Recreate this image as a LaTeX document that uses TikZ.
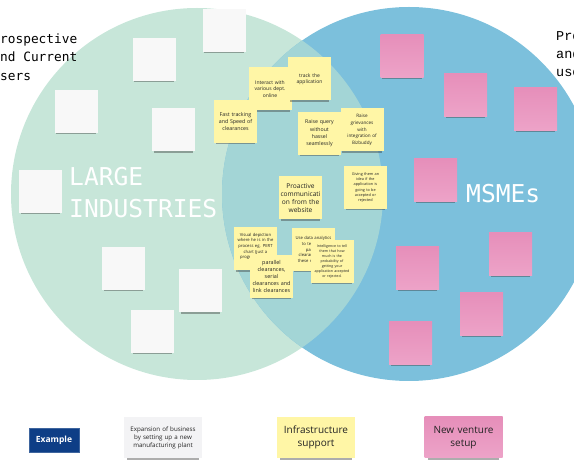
\documentclass[tikz,border=0pt]{standalone}
\usepackage{fontspec}
\setmainfont{Open Sans}
\setmonofont{DejaVu Sans Mono}
\newfontfamily\typewriter{Liberation Mono}
\usetikzlibrary{shadows}

\definecolor{largegreen}{RGB}{199,230,217}
\definecolor{msmeblue}{RGB}{124,192,220}
\definecolor{overlapteal}{RGB}{163,213,214}
\definecolor{stickyyellow}{RGB}{255,246,166}
\definecolor{pinktop}{RGB}{230,143,186}
\definecolor{pinkbottom}{RGB}{237,163,200}
\definecolor{stickywhite}{RGB}{248,248,248}
\definecolor{legendwhite}{RGB}{243,243,245}
\definecolor{examplenavy}{RGB}{14,62,134}
\definecolor{notetext}{RGB}{35,35,35}

\begin{document}
\begin{tikzpicture}[x=1pt,y=-1pt,
  sticky/.style={minimum width=43pt,minimum height=43pt,inner sep=1.5pt,
    text width=40pt,align=center,text=notetext,
    drop shadow={shadow xshift=0pt,shadow yshift=-3.5pt,shadow scale=0.92,
      opacity=0.4,fill=black!80}},
  blank/.style={sticky,fill=stickywhite},
  idea/.style={sticky,fill=stickyyellow},
  venture/.style={sticky,top color=pinktop,bottom color=pinkbottom},
  legendnote/.style={sticky,minimum width=78pt,minimum height=41pt,text width=75pt}]

  \useasboundingbox (0,0) rectangle (574,462);
  \clip (0,0) rectangle (574,462);

  % the two user groups
  \fill[largegreen] (197,194) circle[radius=186pt];
  \fill[msmeblue] (409,194) circle[radius=187pt];
  \begin{scope}
    \clip (197,194) circle[radius=186pt];
    \fill[overlapteal] (409,194) circle[radius=187pt];
  \end{scope}

  % side captions
  \node[anchor=north west,inner sep=0pt,align=left,font=\ttfamily\fontsize{12.8}{18.5}\selectfont]
    (usersleft) at (-7.7,33.5) {Prospective\\and Current\\users};
  \node[anchor=north west,inner sep=0pt,align=left,font=\typewriter\fontsize{13.5}{18}\selectfont]
    (usersright) at (556,31) {Prospective\\and Current\\users};

  % group titles
  \node[anchor=north west,inner sep=0pt,align=left,text=white,font=\ttfamily\fontsize{24.6}{32}\selectfont]
    (largelabel) at (69,167) {LARGE\\INDUSTRIES};
  \node[anchor=north west,inner sep=0pt,text=white,font=\ttfamily\fontsize{24.6}{32}\selectfont]
    (msmelabel) at (466,184) {MSMEs};

  % large industries only
  \node[blank] (w1) at (224,30.5) {};
  \node[blank] (w2) at (154,59.5) {};
  \node[blank] (w3) at (76,111.5) {};
  \node[blank] (w4) at (173.5,130) {};
  \node[blank] (w5) at (40.5,191.5) {};
  \node[blank] (w6) at (123.5,268.5) {};
  \node[blank] (w7) at (200.5,291) {};
  \node[blank] (w8) at (152.5,331.5) {};

  % msmes only
  \node[venture] (p1) at (402,56.5) {};
  \node[venture] (p2) at (465.5,95) {};
  \node[venture] (p3) at (535.5,109.5) {};
  \node[venture] (p4) at (435.5,180.5) {};
  \node[venture] (p5) at (510.5,254.5) {};
  \node[venture] (p6) at (417.5,268.5) {};
  \node[venture] (p7) at (481.5,314.5) {};
  \node[venture] (p8) at (410.5,343.5) {};

  % shared needs
  \node[idea,font=\fontsize{5}{6.5}\selectfont] (interact) at (270,89)
    {Interact with\\various dept.\\online};
  \node[idea,font=\fontsize{5}{6.5}\selectfont] (track) at (309.5,79)
    {track the\\application};
  \node[idea,font=\fontsize{5.3}{7}\selectfont] (fasttrack) at (235.5,121.5)
    {Fast tracking\\and Speed of\\clearances};
  \node[idea,font=\fontsize{5.2}{7.2}\selectfont] (query) at (319.5,133.5)
    {Raise query\\without\\hassel\\seamlessly};
  \node[idea,font=\fontsize{4.6}{6.6}\selectfont] (grievance) at (362,130)
    {Raise\\grievances\\with\\integration of\\Bizbuddy};
  \node[idea,font=\fontsize{3.8}{5.2}\selectfont] (giving) at (365.5,187.5)
    {Giving them an\\idea if the\\application is\\going to be\\accepted or\\rejected};
  \node[idea,font=\fontsize{6.6}{8.2}\selectfont] (proactive) at (300.5,198)
    {Proactive\\communicati\\on from the\\website};
  \node[idea,font=\fontsize{4.2}{5.6}\selectfont] (visual) at (255.5,249)
    {Visual depiction\\where he is in the\\process eg. PERT\\chart (just a\\progress report\\note)};
  \node[idea,font=\fontsize{5.4}{7.2}\selectfont] (parallel) at (271.5,276.5)
    {parallel\\clearances,\\serial\\clearances and\\link clearances};
  \node[idea,font=\fontsize{4.2}{5.6}\selectfont] (analytics) at (313.5,249.5)
    {Use data analytics\\to tell them\\parallel,\\clearances and\\these measures};
  \node[idea,font=\fontsize{3.6}{5}\selectfont] (intelligence) at (332,261.5)
    {Intelligence to tell\\them that how\\much is the\\probability of\\getting your\\application accepted\\or rejected.};

  % legend
  \node[fill=examplenavy,draw=examplenavy!80!white,minimum width=50pt,minimum height=24pt,
    text=white,font=\bfseries\fontsize{8.5}{10}\selectfont] (example) at (54,440) {Example};
  \node[legendnote,fill=legendwhite,font=\fontsize{6.2}{8}\selectfont] (expansion) at (163,437.5)
    {Expansion of business\\by setting up a new\\manufacturing plant};
  \node[legendnote,fill=stickyyellow,font=\fontsize{10}{13.5}\selectfont] (infra) at (316,437.5)
    {Infrastructure\\support};
  \node[legendnote,top color=pinktop,bottom color=pinkbottom,font=\fontsize{10}{13.5}\selectfont]
    (newventure) at (463.5,437.5) {New venture\\setup};
\end{tikzpicture}
\end{document}
